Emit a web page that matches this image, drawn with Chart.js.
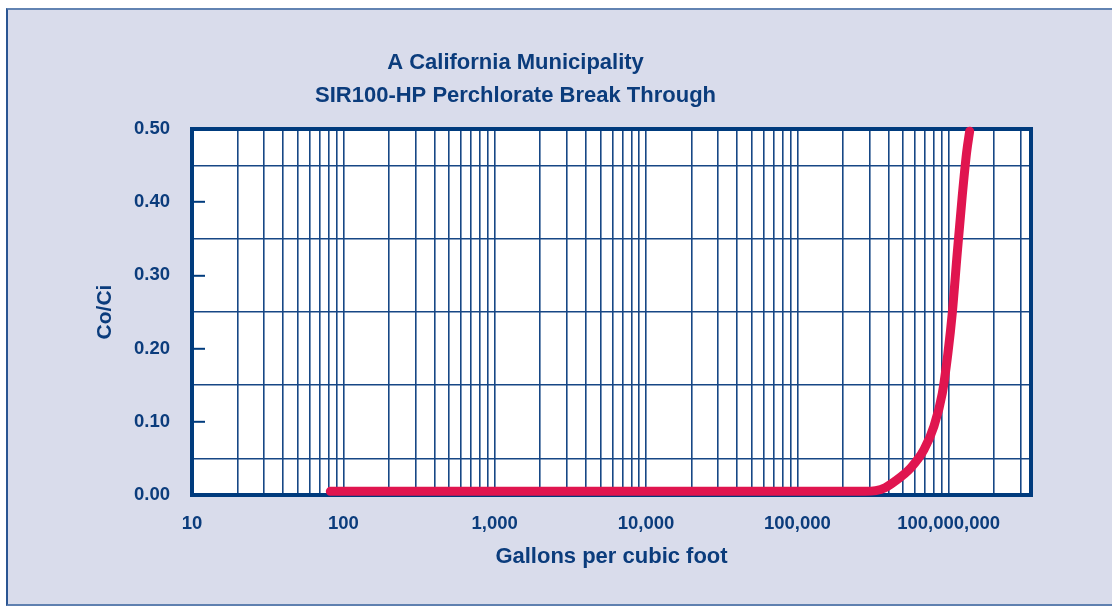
<!DOCTYPE html>
<html>
<head>
<meta charset="utf-8">
<script src="https://cdn.jsdelivr.net/npm/chart.js@4.4.1/dist/chart.umd.min.js"></script>
<style>
  html, body { margin: 0; padding: 0; background: #fff; }
  body { width: 1112px; height: 607px; position: relative; overflow: hidden; }
  #marco {
    position: absolute; left: 6px; top: 8px; width: 1120px; height: 594px;
    background: #d9dceb;
    border-top: 2px solid #6283b2;
    border-left: 2px solid #2a5592;
    border-bottom: 2px solid #5f80b0;
  }
  canvas { position: absolute; left: 0; top: 0; }
</style>
</head>
<body>
<div id="marco"></div>
<canvas id="grafico" width="1112" height="607"></canvas>
<script>
// Datos (galones por pie cúbico vs Co/Ci)
const galones = [82, 280000, 330000, 380000, 436000, 561000, 687000, 800000, 908000, 989000, 1057000, 1140000, 1230000, 1314000, 1377000];
const coci = [0.005, 0.005, 0.006, 0.010, 0.018, 0.037, 0.062, 0.094, 0.139, 0.194, 0.249, 0.331, 0.409, 0.468, 0.497];

// Etiquetas del eje X (tal como aparecen en el original)
const xTickValues = [10, 100, 1000, 10000, 100000, 1000000];
const xTickLabels = ['10', '100', '1,000', '10,000', '100,000', '100,000,000'];
const xMin = 10;
const xMax = 3500000;

// Eje Y: etiquetas cada 0.10, líneas de cuadrícula en los medios
const yTickValues = [0, 0.1, 0.2, 0.3, 0.4, 0.5];
const yTickLabels = ['0.00', '0.10', '0.20', '0.30', '0.40', '0.50'];
const yGridValues = [0.05, 0.15, 0.25, 0.35, 0.45];

const azul = '#0b3c7c';
const rojo = '#e0154f';
const fuente = '"Liberation Sans", Arial, sans-serif';

// Líneas verticales logarítmicas: 1..9 por década
const xGridValues = [];
xTickValues.forEach(dec => {
    for (let m = 1; m <= 9; m++) {
        if (dec * m <= xMax) xGridValues.push(dec * m);
    }
});

const fondoArea = {
    id: 'fondoArea',
    beforeDraw(chart) {
        const { ctx, chartArea: a } = chart;
        ctx.save();
        ctx.fillStyle = '#ffffff';
        ctx.fillRect(a.left, a.top, a.right - a.left, a.bottom - a.top);
        ctx.restore();
    }
};

const marcoArea = {
    id: 'marcoArea',
    beforeDatasetsDraw(chart) {
        const { ctx, chartArea: a } = chart;
        ctx.save();
        ctx.strokeStyle = '#003b7d';
        ctx.lineWidth = 4;
        ctx.strokeRect(a.left, a.top, a.right - a.left, a.bottom - a.top);
        ctx.restore();
    }
};

const esMedio = v => Math.round(v * 100) % 10 === 5;

new Chart(document.getElementById('grafico'), {
    type: 'line',
    data: {
        datasets: [{
            data: galones.map((g, i) => ({ x: g, y: coci[i] })),
            borderColor: rojo,
            borderWidth: 9,
            borderCapStyle: 'round',
            borderJoinStyle: 'round',
            pointRadius: 0,
            cubicInterpolationMode: 'monotone',
            fill: false,
            clip: false
        }]
    },
    options: {
        responsive: false,
        animation: false,
        devicePixelRatio: 1,
        layout: { padding: { left: 0, right: 81, top: 0, bottom: 0 } },
        plugins: {
            legend: { display: false },
            tooltip: { enabled: false },
            title: {
                display: true,
                text: ['A California Municipality', 'SIR100-HP Perchlorate Break Through'],
                color: azul,
                font: { family: fuente, size: 22, weight: 'bold', lineHeight: 1.5 },
                padding: { top: 46, bottom: 17 }
            }
        },
        scales: {
            x: {
                type: 'logarithmic',
                min: xMin,
                max: xMax,
                afterBuildTicks: scale => { scale.ticks = xGridValues.map(v => ({ value: v })); },
                afterFit: scale => { scale.height = 112; },
                border: { display: false },
                grid: { color: '#174785', lineWidth: 1.6, drawTicks: false },
                ticks: {
                    autoSkip: false,
                    maxRotation: 0,
                    padding: 18,
                    color: azul,
                    font: { family: fuente, size: 18.5, weight: 'bold' },
                    callback: value => {
                        const i = xTickValues.indexOf(value);
                        return i >= 0 ? xTickLabels[i] : '';
                    }
                },
                title: {
                    display: true,
                    text: 'Gallons per cubic foot',
                    color: azul,
                    font: { family: fuente, size: 22, weight: 'bold', lineHeight: 1.2 },
                    padding: { top: 0, bottom: 37 }
                }
            },
            y: {
                type: 'linear',
                min: 0,
                max: 0.5,
                afterBuildTicks: scale => {
                    scale.ticks = yTickValues.concat(yGridValues).sort((a, b) => a - b).map(v => ({ value: v }));
                },
                afterFit: scale => { scale.width = 192; },
                border: { display: false },
                grid: {
                    color: ctx => esMedio(ctx.tick.value) ? '#174785' : 'rgba(0,0,0,0)',
                    lineWidth: 1.6,
                    drawTicks: true,
                    tickLength: -13,
                    tickWidth: 2,
                    tickColor: ctx => esMedio(ctx.tick.value) ? 'rgba(0,0,0,0)' : '#003b7d'
                },
                ticks: {
                    autoSkip: false,
                    padding: 35,
                    color: azul,
                    font: { family: fuente, size: 18.5, weight: 'bold' },
                    callback: value => {
                        const i = yTickValues.findIndex(v => Math.abs(v - value) < 1e-9);
                        return i >= 0 ? yTickLabels[i] : '';
                    }
                },
                title: {
                    display: true,
                    text: 'Co/Ci',
                    color: azul,
                    font: { family: fuente, size: 21, weight: 'bold', lineHeight: 1.2 },
                    padding: { top: 93, bottom: 0 }
                }
            }
        }
    },
    plugins: [fondoArea, marcoArea]
});
</script>
</body>
</html>
